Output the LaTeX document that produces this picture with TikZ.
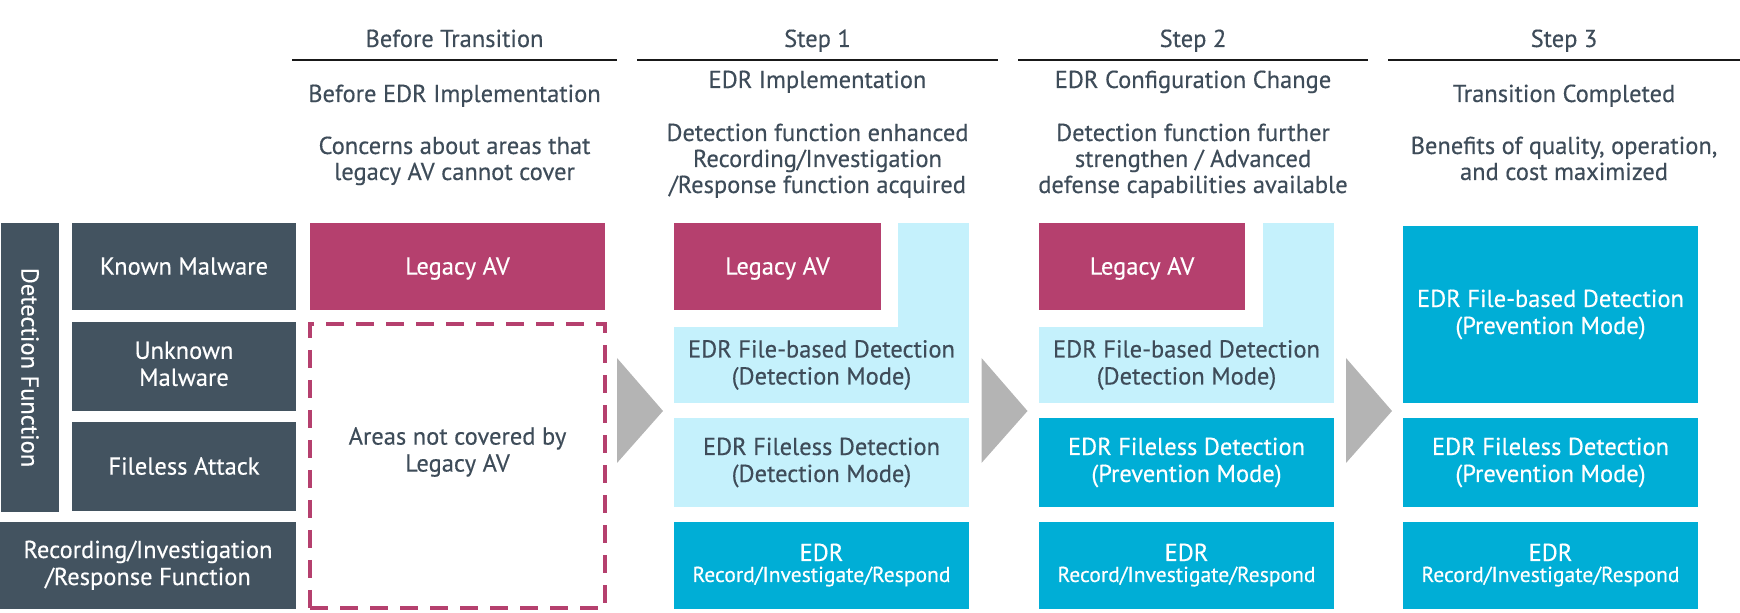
\documentclass[tikz,border=0pt]{standalone}
\usepackage{fontspec}
\setmainfont{PT Sans}[FakeBold=0.35]
\definecolor{slate}{HTML}{435360}
\definecolor{mag}{HTML}{B5406E}
\definecolor{lblue}{HTML}{C5F1FC}
\definecolor{cyanb}{HTML}{00AED6}
\definecolor{txt}{HTML}{3E4C59}
\definecolor{arrowgray}{HTML}{B4B4B4}
\newcommand{\mainfs}{\fontsize{12.25pt}{13.5pt}\selectfont}
\newcommand{\smallfs}{\fontsize{10.8pt}{13.5pt}\selectfont}
\newcommand{\mstr}{\rule[-0.2\baselineskip]{0pt}{\baselineskip}}
\newcommand{\mycell}[7]{\node[#1, minimum width={(#5-#3)*0.5pt}, minimum height={(#6-#4)*0.5pt}] (#2) at ({(#3+#5)/2},{(#4+#6)/2}) {#7};}
\begin{document}
\begin{tikzpicture}[x=0.5pt,y=-0.5pt,
  cellbox/.style={inner sep=0pt, outer sep=0pt, align=center, font=\mainfs,
    execute at begin node=\mstr, execute at end node=\mstr},
  darkbox/.style={cellbox, fill=slate, text=white},
  magbox/.style={cellbox, fill=mag, text=white},
  lbbox/.style={cellbox, fill=lblue, text=txt},
  cybox/.style={cellbox, fill=cyanb, text=white},
  dashbox/.style={cellbox, draw=mag, line width=2pt, dash pattern=on 9pt off 6pt},
  hdr/.style={font=\mainfs, text=txt, anchor=base, inner sep=0pt},
  rulestyle/.style={line width=1pt, draw=black!90},
  chev/.style={fill=arrowgray}]
\useasboundingbox (0,0) rectangle (1740,613);

% header rules
\coordinate (r0a) at (292,60); \coordinate (r0b) at (617,60);
\coordinate (r1a) at (637,60); \coordinate (r1b) at (998,60);
\coordinate (r2a) at (1018,60); \coordinate (r2b) at (1368,60);
\coordinate (r3a) at (1388,60); \coordinate (r3b) at (1740,60);
\draw[rulestyle] (r0a) -- (r0b);
\draw[rulestyle] (r1a) -- (r1b);
\draw[rulestyle] (r2a) -- (r2b);
\draw[rulestyle] (r3a) -- (r3b);

% headers
\node[hdr] (h0) at (454.5,47) {Before Transition};
\node[hdr] (h1) at (817.5,47) {Step 1};
\node[hdr] (h2) at (1193,47) {Step 2};
\node[hdr] (h3) at (1564,47) {Step 3};

% sub headers
\node[hdr] (s0a) at (454.5,102) {Before EDR Implementation};
\node[hdr] (s0b) at (454.5,154) {Concerns about areas that};
\node[hdr] (s0c) at (454.5,180) {legacy AV cannot cover};

\node[hdr] (s1a) at (817.5,88) {EDR Implementation};
\node[hdr] (s1b) at (817.5,141) {Detection function enhanced};
\node[hdr] (s1c) at (817.5,167) {Recording/Investigation};
\node[hdr] (s1d) at (817.5,193) {/Response function acquired};

\node[hdr] (s2a) at (1193,88) {EDR Configuration Change};
\node[hdr] (s2b) at (1193,141) {Detection function further};
\node[hdr] (s2c) at (1193,167) {strengthen / Advanced};
\node[hdr] (s2d) at (1193,193) {defense capabilities available};

\node[hdr] (s3a) at (1564,102) {Transition Completed};
\node[hdr] (s3b) at (1564,154) {Benefits of quality, operation,};
\node[hdr] (s3c) at (1564,180) {and cost maximized};

% row labels
\mycell{darkbox}{det}{1}{223}{59}{512}{}
\node[font=\mainfs, text=white, rotate=-90, inner sep=0pt] (detlbl) at (det.center) {Detection Function};
\mycell{darkbox}{known}{72}{223}{296}{310}{Known Malware}
\mycell{darkbox}{unknown}{72}{322}{296}{411}{Unknown\\Malware}
\mycell{darkbox}{fileless}{72}{422}{296}{511}{Fileless Attack}
\mycell{darkbox}{rec}{0}{522}{296}{609}{Recording/Investigation\\/Response Function}

% before transition
\mycell{magbox}{av0}{310}{223}{605}{310}{Legacy AV}
\mycell{dashbox}{gap0}{310}{324}{605}{608}{}
\node[font=\mainfs, text=txt, align=center, inner sep=0pt] (gap0t) at (457.5,452) {Areas not covered by\\Legacy AV};

% step 1
\mycell{magbox}{av1}{674}{223}{881}{310}{Legacy AV}
\mycell{lbbox}{strip1}{898}{223}{969}{328}{}
\mycell{lbbox}{fb1}{674}{327}{969}{403}{EDR File-based Detection\\(Detection Mode)}
\mycell{lbbox}{fl1}{674}{418}{969}{507}{EDR Fileless Detection\\(Detection Mode)}
\mycell{cybox}{edr1}{674}{522}{969}{609}{EDR\\[-3pt]{\smallfs Record/Investigate/Respond}}

% step 2
\mycell{magbox}{av2}{1039}{223}{1245}{310}{Legacy AV}
\mycell{lbbox}{strip2}{1263}{223}{1334}{328}{}
\mycell{lbbox}{fb2}{1039}{327}{1334}{403}{EDR File-based Detection\\(Detection Mode)}
\mycell{cybox}{fl2}{1039}{418}{1334}{507}{EDR Fileless Detection\\(Prevention Mode)}
\mycell{cybox}{edr2}{1039}{522}{1334}{609}{EDR\\[-3pt]{\smallfs Record/Investigate/Respond}}

% step 3
\mycell{cybox}{fb3}{1403}{226}{1698}{403}{EDR File-based Detection\\(Prevention Mode)}
\mycell{cybox}{fl3}{1403}{418}{1698}{507}{EDR Fileless Detection\\(Prevention Mode)}
\mycell{cybox}{edr3}{1403}{522}{1698}{609}{EDR\\[-3pt]{\smallfs Record/Investigate/Respond}}

% chevrons
\fill[chev] (617,358) -- (663,411) -- (617,463) -- cycle;
\fill[chev] (981.5,358) -- (1027.5,411) -- (981.5,463) -- cycle;
\fill[chev] (1346,358) -- (1392,411) -- (1346,463) -- cycle;
\end{tikzpicture}
\end{document}
